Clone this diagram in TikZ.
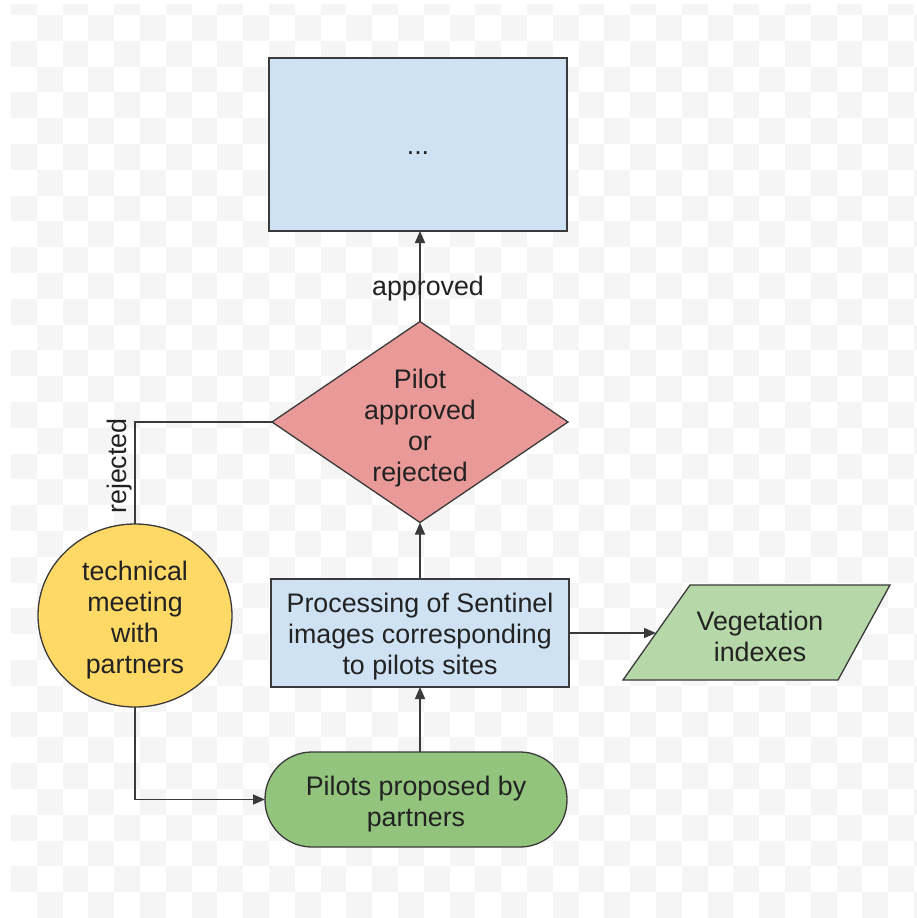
\documentclass[tikz,border=0pt]{standalone}
\usepackage{fontspec}
\setmainfont{Liberation Sans}
\usetikzlibrary{arrows.meta,shapes.geometric}
\definecolor{chk}{HTML}{F5F5F5}
\definecolor{boxblue}{HTML}{CFE2F3}
\definecolor{dred}{HTML}{EA9999}
\definecolor{cyel}{HTML}{FFD966}
\definecolor{pgreen}{HTML}{93C47D}
\definecolor{lgreen}{HTML}{B6D7A8}
\definecolor{edge}{HTML}{3A3A3A}
\definecolor{txt}{HTML}{222222}
\begin{document}
\begin{tikzpicture}[x=1pt,y=-1pt,
  shp/.style={draw=edge,line width=1.3pt,inner sep=0pt,outer sep=0pt},
  lbl/.style={text=txt,font=\fontsize{26.8}{31}\selectfont,align=center,inner sep=0pt},
  conn/.style={draw=edge,line width=1.5pt},
  arr/.style={conn,-{Triangle[length=12pt,width=10pt]}}]
\useasboundingbox (0,0) rectangle (917,918);
\fill[white] (0,0) rectangle (917,918);
\begin{scope}
\clip (11,4) rectangle (917,918);
\foreach \c in {0,...,35}{\foreach \j in {0,...,18}{%
  \pgfmathsetmacro\r{2*\j+mod(\c,2)}%
  \fill[chk] ({11+\c*25.8},{15+(\r-1)*25.8}) rectangle ++(25.8,25.8);}}
\end{scope}
% nodes
\node[shp,fill=boxblue,rectangle,minimum width=298pt,minimum height=173pt] (top) at (418,144.5) {};
\node[lbl] (toptxt) at (418,153) {...};
\node[shp,fill=dred,diamond,minimum width=296pt,minimum height=201pt] (dia) at (420,422) {};
\node[lbl] (diatxt) at (420,428) {Pilot\\approved\\or\\rejected};
\node[shp,fill=cyel,ellipse,minimum width=194pt,minimum height=183pt] (circ) at (135,615.5) {};
\node[lbl] (circtxt) at (135,620) {technical\\meeting\\with\\partners};
\node[shp,fill=boxblue,rectangle,minimum width=298pt,minimum height=108pt] (proc) at (420,633) {};
\node[lbl] (proctxt) at (420,637) {Processing of Sentinel\\images corresponding\\to pilots sites};
\node[shp,fill=pgreen,rectangle,rounded corners=47pt,minimum width=302pt,minimum height=95pt] (pill) at (416,799.5) {};
\node[lbl] (pilltxt) at (416,804) {Pilots proposed by\\partners};
\draw[shp,fill=lgreen] (690,585) -- (890,585) -- (838,680) -- (623,680) -- cycle;
\node[lbl] (veg) at (760,636) {Vegetation\\indexes};
\coordinate (vegleft) at (656,633);
% connectors
\draw[arr] (dia.north) -- (dia.north |- top.south);
\node[lbl] (apl) at (428,289) {approved};
\draw[conn] (dia.west) -| (circ.north);
\node[lbl,rotate=90] (rejl) at (120,466) {rejected};
\draw[arr] (circ.south) |- (pill.west);
\draw[arr] (pill.north -| proc.south) -- (proc.south);
\draw[arr] (proc.north) -- (dia.south);
\draw[arr] (proc.east) -- (vegleft);
\end{tikzpicture}
\end{document}
